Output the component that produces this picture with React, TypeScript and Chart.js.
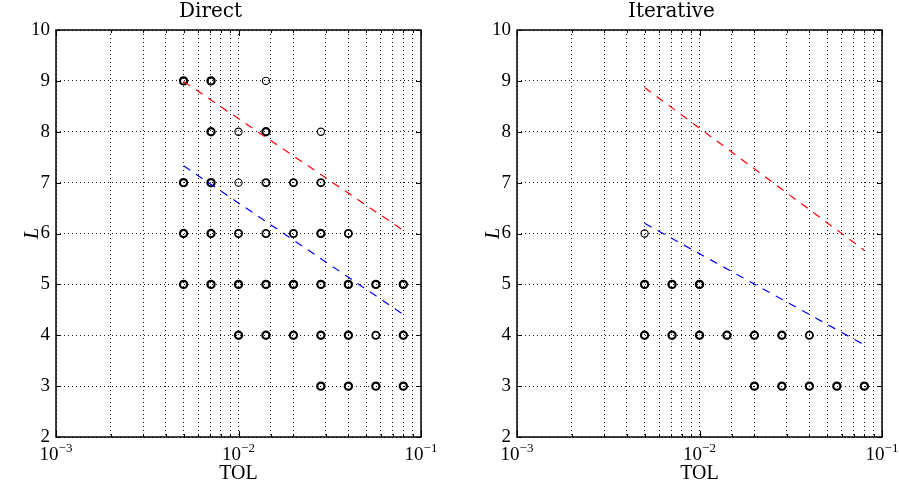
import React, { useEffect, useRef } from 'react';
import { Chart, registerables } from 'chart.js';

Chart.register(...registerables);

// ---------------- data ----------------
const TOL_MIN = 0.001;
const TOL_MAX = 0.1;
const L_MIN = 2;
const L_MAX = 10;
const X_DECADE_TICKS = [0.001, 0.01, 0.1];
const X_DECADE_EXPONENTS = ['−3', '−2', '−1'];

// Direct method: TOL values reached at each level L, and number of overlapping runs
const directL9 = [0.005, 0.00707, 0.01414];
const directL9Runs = [3, 3, 1];
const directL8 = [0.00707, 0.01, 0.01414, 0.02828];
const directL8Runs = [3, 1, 3, 1];
const directL7 = [0.005, 0.00707, 0.01, 0.01414, 0.02, 0.02828];
const directL7Runs = [3, 3, 1, 2, 2, 2];
const directL6 = [0.005, 0.00707, 0.01, 0.01414, 0.02, 0.02828, 0.04];
const directL6Runs = [3, 3, 2, 2, 2, 3, 2];
const directL5 = [0.005, 0.00707, 0.01, 0.01414, 0.02, 0.02828, 0.04, 0.05657, 0.08];
const directL5Runs = [3, 3, 3, 3, 3, 3, 3, 3, 3];
const directL4 = [0.01, 0.01414, 0.02, 0.02828, 0.04, 0.05657, 0.08];
const directL4Runs = [3, 3, 3, 3, 3, 2, 3];
const directL3 = [0.02828, 0.04, 0.05657, 0.08];
const directL3Runs = [3, 3, 3, 3];

// Iterative method
const iterL6 = [0.005];
const iterL6Runs = [1];
const iterL5 = [0.005, 0.00707, 0.01];
const iterL5Runs = [3, 3, 3];
const iterL4 = [0.005, 0.00707, 0.01, 0.01414, 0.02, 0.02828, 0.04];
const iterL4Runs = [3, 3, 3, 3, 3, 3, 2];
const iterL3 = [0.02, 0.02828, 0.04, 0.05657, 0.08];
const iterL3Runs = [3, 3, 3, 3, 3];

// Fitted trend lines (TOL endpoints and L values)
const FIT_TOL = [0.005, 0.08];
const directFitHigh = [8.99, 6.06];
const directFitLow = [7.33, 4.41];
const iterFitHigh = [8.87, 5.67];
const iterFitLow = [6.2, 3.81];

type Level = { L: number; tol: number[]; runs: number[] };

const directLevels: Level[] = [
  { L: 9, tol: directL9, runs: directL9Runs },
  { L: 8, tol: directL8, runs: directL8Runs },
  { L: 7, tol: directL7, runs: directL7Runs },
  { L: 6, tol: directL6, runs: directL6Runs },
  { L: 5, tol: directL5, runs: directL5Runs },
  { L: 4, tol: directL4, runs: directL4Runs },
  { L: 3, tol: directL3, runs: directL3Runs },
];

const iterLevels: Level[] = [
  { L: 6, tol: iterL6, runs: iterL6Runs },
  { L: 5, tol: iterL5, runs: iterL5Runs },
  { L: 4, tol: iterL4, runs: iterL4Runs },
  { L: 3, tol: iterL3, runs: iterL3Runs },
];

// ---------------- styling ----------------
const SERIF = '"Liberation Serif", "DejaVu Serif", serif';
const TITLE_FONT = '"DejaVu Serif", serif';
const runWidth = (r: number) => (r >= 3 ? 2.2 : r === 2 ? 1.8 : 1.1);

const framePlugin = {
  id: 'frameTicks',
  afterDraw(chart: any) {
    const { ctx, chartArea: a, scales } = chart;
    const xs = scales.x;
    const ys = scales.y;
    ctx.save();
    ctx.strokeStyle = '#000';
    ctx.lineWidth = 1;
    // inward ticks
    ctx.beginPath();
    xs.ticks.forEach((t: any) => {
      const x = Math.round(xs.getPixelForValue(t.value)) + 0.5;
      const lg = Math.log10(t.value);
      const major = Math.abs(lg - Math.round(lg)) < 1e-6;
      const len = major ? 6 : 3;
      ctx.moveTo(x, a.bottom);
      ctx.lineTo(x, a.bottom - len);
      ctx.moveTo(x, a.top);
      ctx.lineTo(x, a.top + len);
    });
    ys.ticks.forEach((t: any) => {
      const y = Math.round(ys.getPixelForValue(t.value)) + 0.5;
      ctx.moveTo(a.left, y);
      ctx.lineTo(a.left + 5, y);
      ctx.moveTo(a.right, y);
      ctx.lineTo(a.right - 5, y);
    });
    ctx.stroke();
    // frame
    ctx.lineWidth = 1.5;
    ctx.strokeRect(a.left, a.top, a.right - a.left, a.bottom - a.top);
    // decade labels 10^k
    ctx.fillStyle = '#000';
    ctx.textBaseline = 'alphabetic';
    ctx.textAlign = 'left';
    X_DECADE_TICKS.forEach((v, i) => {
      const x = xs.getPixelForValue(v);
      ctx.font = `19px ${SERIF}`;
      const wBase = ctx.measureText('10').width;
      ctx.font = `13px ${SERIF}`;
      const wExp = ctx.measureText(X_DECADE_EXPONENTS[i]).width;
      const start = x - (wBase + wExp) / 2;
      ctx.font = `19px ${SERIF}`;
      ctx.fillText('10', start, a.bottom + 23);
      ctx.font = `13px ${SERIF}`;
      ctx.fillText(X_DECADE_EXPONENTS[i], start + wBase, a.bottom + 15);
    });
    ctx.restore();
  },
};

function Panel(props: {
  title: string;
  levels: Level[];
  fitHigh: number[];
  fitLow: number[];
  left: number;
  width: number;
  padRight: number;
}) {
  const ref = useRef<HTMLCanvasElement | null>(null);
  useEffect(() => {
    const canvas = ref.current;
    if (!canvas) return;
    const pts: { x: number; y: number }[] = [];
    const widths: number[] = [];
    props.levels.forEach((lv) => {
      lv.tol.forEach((t, i) => {
        pts.push({ x: t, y: lv.L });
        widths.push(runWidth(lv.runs[i]));
      });
    });
    const fitData = (vals: number[]) => FIT_TOL.map((t, i) => ({ x: t, y: vals[i] }));
    const gridStyle = {
      color: 'rgba(0,0,0,0.9)',
      lineWidth: 1,
      drawTicks: false,
    };
    const chart = new Chart(canvas, {
      type: 'scatter',
      data: {
        datasets: [
          {
            data: fitData(props.fitHigh),
            showLine: true,
            borderColor: '#ff0000',
            borderWidth: 1.2,
            borderDash: [8, 7],
            pointRadius: 0,
            fill: false,
          },
          {
            data: fitData(props.fitLow),
            showLine: true,
            borderColor: '#0000ff',
            borderWidth: 1.2,
            borderDash: [8, 7],
            pointRadius: 0,
            fill: false,
          },
          {
            data: pts,
            pointRadius: 3.6,
            pointBorderWidth: widths,
            pointBorderColor: '#000',
            pointBackgroundColor: 'rgba(255,255,255,0)',
          },
        ],
      } as any,
      options: {
        responsive: false,
        animation: false,
        events: [],
        layout: { padding: { left: 0, right: props.padRight, top: 0, bottom: 0 } },
        plugins: {
          legend: { display: false },
          tooltip: { enabled: false },
          title: {
            display: true,
            text: props.title,
            color: '#000',
            font: { family: TITLE_FONT, size: 20, weight: 'normal', lineHeight: 1.2 },
            padding: { top: 0, bottom: 6 },
          },
        },
        scales: {
          x: {
            type: 'logarithmic',
            min: TOL_MIN,
            max: TOL_MAX,
            ticks: { display: false },
            grid: gridStyle,
            border: { display: false, dash: [1, 3] },
            title: {
              display: true,
              text: 'TOL',
              color: '#000',
              font: { family: SERIF, size: 20 },
              padding: { top: 0, bottom: 2 },
            },
            afterFit: (s: any) => {
              s.height = 51;
            },
          },
          y: {
            type: 'linear',
            min: L_MIN,
            max: L_MAX,
            ticks: {
              stepSize: 1,
              color: '#000',
              font: { family: SERIF, size: 19 },
              padding: 6,
            },
            grid: gridStyle,
            border: { display: false, dash: [1, 3] },
            title: {
              display: true,
              text: 'L',
              color: '#000',
              font: { family: SERIF, size: 20, style: 'italic' },
              padding: { top: 21, bottom: 0 },
            },
            afterFit: (s: any) => {
              s.width = 56;
            },
          },
        },
      } as any,
      plugins: [framePlugin],
    });
    return () => chart.destroy();
  }, []);
  return (
    <canvas
      ref={ref}
      width={props.width}
      height={488}
      style={{ position: 'absolute', left: props.left, top: 0, width: props.width, height: 488 }}
    />
  );
}

export default function App() {
  return (
    <div
      style={{
        position: 'fixed',
        left: 0,
        top: 0,
        width: 899,
        height: 488,
        background: '#fff',
        overflow: 'hidden',
      }}
    >
      <Panel
        title="Direct"
        levels={directLevels}
        fitHigh={directFitHigh}
        fitLow={directFitLow}
        left={0}
        width={449}
        padRight={28}
      />
      <Panel
        title="Iterative"
        levels={iterLevels}
        fitHigh={iterFitHigh}
        fitLow={iterFitLow}
        left={461}
        width={438}
        padRight={17}
      />
    </div>
  );
}
